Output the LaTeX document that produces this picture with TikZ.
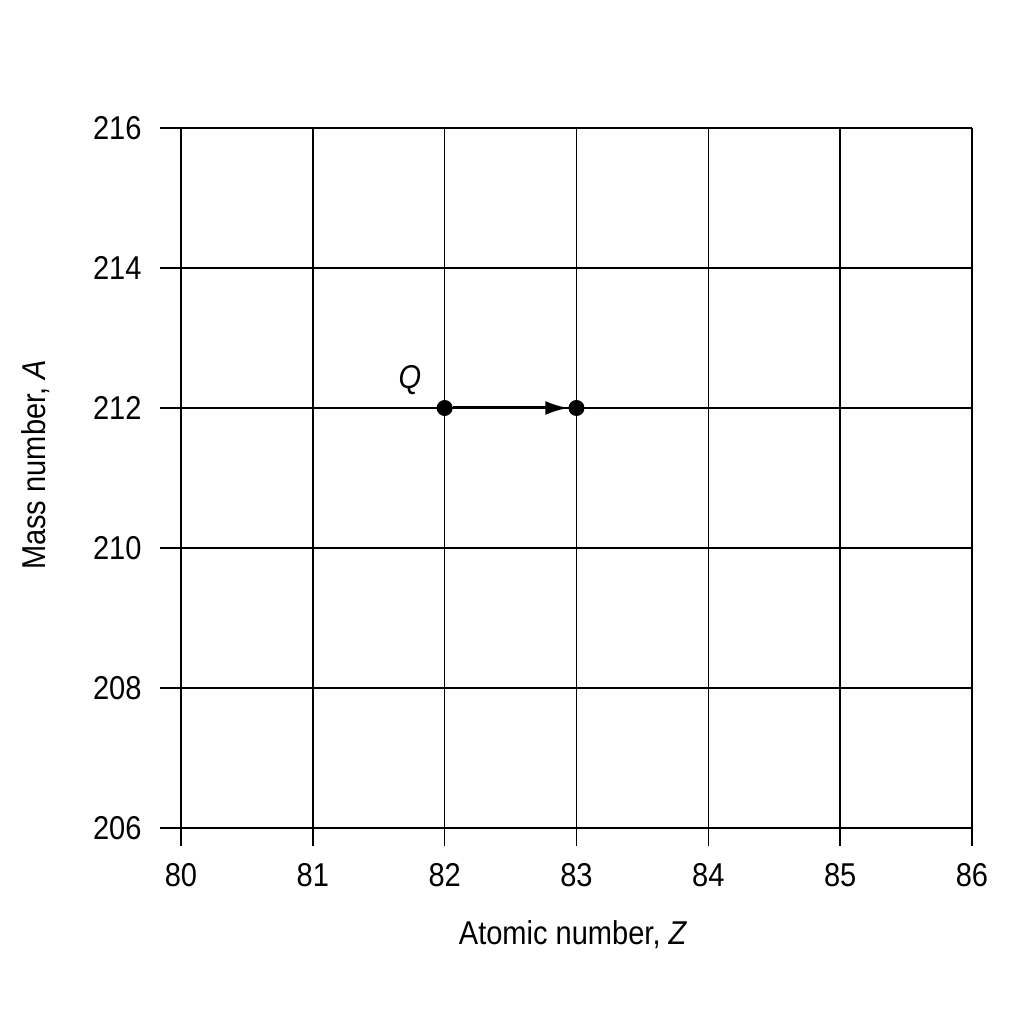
\documentclass[tikz,border=0pt]{standalone}
\usepackage{fontspec}
\setmainfont{Liberation Sans}[FakeStretch=0.88]
\usetikzlibrary{arrows.meta}
\begin{document}
\begin{tikzpicture}[
              x=131.83pt, y=70pt,
              gridline/.style={line width=1.5pt},
              nucleus/.style={circle,fill=black,inner sep=0pt,minimum size=16pt},
              decayarrow/.style={line width=3pt,-{Latex[length=23pt,width=14pt]}},
              numlabel/.style={font=\fontsize{33}{40}\selectfont}
            ]
            \useasboundingbox (-1.3730,-2.8) rectangle (6.3946,11.8286);

            % Grid: lines of constant A
            \draw[gridline] (-0.159,0) -- (6,0);
            \draw[gridline] (-0.159,2) -- (6,2);
            \draw[gridline] (-0.159,4) -- (6,4);
            \draw[gridline] (-0.159,6) -- (6,6);
            \draw[gridline] (-0.159,8) -- (6,8);
            \draw[gridline] (-0.159,10) -- (6,10);

            % Grid: lines of constant Z
            \draw[gridline] (0,-0.257) -- (0,10);
            \draw[gridline] (1,-0.257) -- (1,10);
            \draw[gridline] (2,-0.257) -- (2,10);
            \draw[gridline] (3,-0.257) -- (3,10);
            \draw[gridline] (4,-0.257) -- (4,10);
            \draw[gridline] (5,-0.257) -- (5,10);
            \draw[gridline] (6,-0.257) -- (6,10);

            % Mass number labels
            \node[numlabel,anchor=east] (a206) at (-0.273,0) {206};
            \node[numlabel,anchor=east] (a208) at (-0.273,2) {208};
            \node[numlabel,anchor=east] (a210) at (-0.273,4) {210};
            \node[numlabel,anchor=east] (a212) at (-0.273,6) {212};
            \node[numlabel,anchor=east] (a214) at (-0.273,8) {214};
            \node[numlabel,anchor=east] (a216) at (-0.273,10) {216};

            % Atomic number labels
            \node[numlabel] (z80) at (0,-0.671) {80};
            \node[numlabel] (z81) at (1,-0.671) {81};
            \node[numlabel] (z82) at (2,-0.671) {82};
            \node[numlabel] (z83) at (3,-0.671) {83};
            \node[numlabel] (z84) at (4,-0.671) {84};
            \node[numlabel] (z85) at (5,-0.671) {85};
            \node[numlabel] (z86) at (6,-0.671) {86};

            % Axis titles
            \node[numlabel] (ztitle) at (2.974,-1.529) {Atomic number, \textit{Z}};
            \node[numlabel,rotate=90] (atitle) at (-1.100,5.186) {Mass number, \textit{A}};

            % Decay of Q
            \node[nucleus] (Q) at (2,6) {};
            \node[nucleus] (daughter) at (3,6) {};
            \node[numlabel] (Qlabel) at (1.737,6.4) {\textit{Q}};
            \draw[decayarrow] (Q) -- (daughter);

            \end{tikzpicture}
\end{document}
